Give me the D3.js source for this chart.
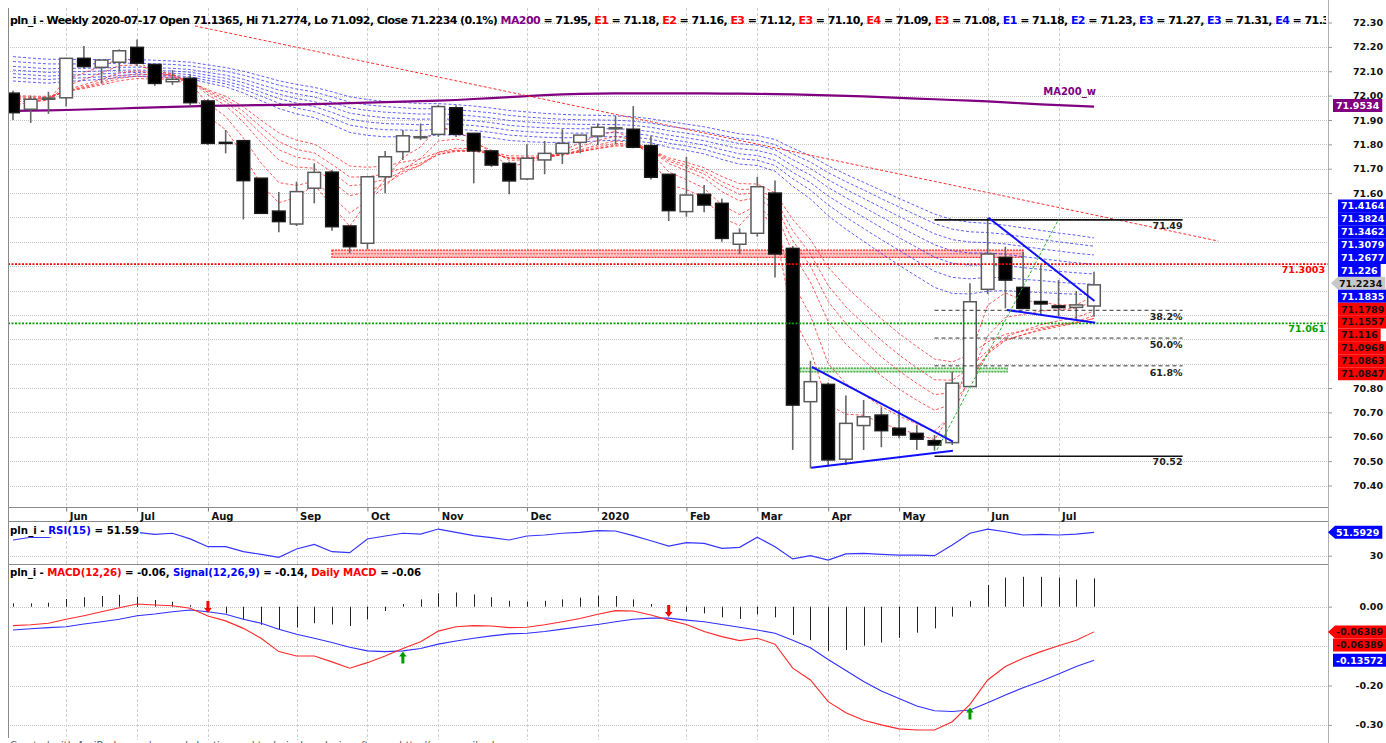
<!DOCTYPE html>
<html>
<head>
<meta charset="utf-8">
<script src="https://cdn.jsdelivr.net/npm/d3@7"></script>
<style>
  body { margin: 0; background: #fff; }
  svg { display: block; }
</style>
</head>
<body>
<svg id="chart" width="1386" height="743"></svg>
<script>
// weekly bars, 2019-05-17 .. 2020-07-17
const opens = [72.01,71.944,71.985,71.991,72.153,72.116,72.137,72.198,72.128,72.057,
  72.071,71.978,71.808,71.815,71.661,71.526,71.473,71.62,71.686,71.465,
  71.394,71.667,71.77,71.829,71.841,71.95,71.845,71.773,71.722,71.658,
  71.736,71.763,71.808,71.834,71.866,71.862,71.795,71.677,71.524,71.595,
  71.558,71.39,71.435,71.60,71.373,70.744,70.815,70.508,70.646,70.689,
  70.635,70.614,70.584,70.576,70.806,71.205,71.336,71.213,71.155,71.137,
  71.131,71.1365];
const highs = [72.02,72.00,72.016,72.155,72.204,72.146,72.19,72.23,72.13,72.105,
  72.087,71.985,71.859,71.818,71.661,71.604,71.647,71.722,71.695,71.465,
  71.667,71.773,71.859,71.886,71.962,71.96,71.845,71.773,71.729,71.80,
  71.814,71.862,71.838,71.886,71.916,71.957,71.834,71.677,71.749,71.633,
  71.578,71.455,71.667,71.652,71.383,70.912,70.823,70.769,70.751,70.721,
  70.71,70.648,70.607,70.867,71.23,71.499,71.38,71.36,71.305,71.243,
  71.198,71.2774];
const lows = [71.90,71.888,71.925,71.955,72.11,72.05,72.098,72.12,72.04,72.044,
  71.957,71.797,71.763,71.492,71.517,71.439,71.465,71.558,71.445,71.353,
  71.369,71.599,71.736,71.818,71.831,71.83,71.64,71.708,71.595,71.654,
  71.677,71.719,71.763,71.797,71.80,71.784,71.656,71.485,71.503,71.521,
  71.40,71.349,71.421,71.254,70.546,70.47,70.477,70.484,70.546,70.557,
  70.594,70.546,70.543,70.566,70.806,71.186,71.127,71.123,71.10,71.094,
  71.082,71.092];
const closes = [71.93,71.985,71.99,72.153,72.119,72.146,72.184,72.133,72.05,72.067,
  71.971,71.804,71.806,71.651,71.517,71.483,71.606,71.685,71.462,71.38,
  71.667,71.749,71.835,71.831,71.955,71.841,71.773,71.715,71.65,71.743,
  71.763,71.804,71.838,71.87,71.868,71.788,71.665,71.528,71.592,71.551,
  71.414,71.435,71.626,71.35,70.73,70.826,70.505,70.655,70.682,70.625,
  70.607,70.59,70.566,70.82,71.154,71.35,71.243,71.127,71.145,71.13,
  71.141,71.2234];

const ma200 = [71.937,71.938,71.939,71.941,71.943,71.945,71.947,71.95,71.952,71.954,
  71.956,71.958,71.959,71.96,71.961,71.962,71.963,71.965,71.967,71.969,
  71.971,71.973,71.975,71.977,71.979,71.982,71.986,71.99,71.994,71.998,
  72.002,72.005,72.007,72.008,72.009,72.009,72.009,72.009,72.009,72.009,
  72.008,72.008,72.007,72.006,72.005,72.003,72.001,71.999,71.997,71.994,
  71.991,71.988,71.985,71.982,71.979,71.976,71.972,71.968,71.964,71.961,
  71.958,71.955];

// short ribbon (red)
const redE3 = [71.96,71.973,71.981,72.067,72.093,72.12,72.152,72.142,72.096,72.082,
  72.026,71.915,71.86,71.756,71.636,71.56,71.583,71.634,71.548,71.464,
  71.566,71.657,71.746,71.789,71.872,71.856,71.815,71.765,71.707,71.725,
  71.744,71.774,71.806,71.838,71.853,71.82,71.743,71.635,71.614,71.582,
  71.498,71.467,71.546,71.448,71.089,70.957,70.731,70.693,70.688,70.656,
  70.632,70.611,70.588,70.704,70.929,71.14,71.191,71.159,71.152,71.141,
  71.141,71.179];
const redE5 = [71.975,71.978,71.982,72.039,72.066,72.093,72.123,72.126,72.101,72.09,
  72.05,71.968,71.914,71.826,71.723,71.643,71.631,71.649,71.587,71.518,
  71.568,71.628,71.697,71.742,71.813,71.822,71.806,71.776,71.734,71.737,
  71.746,71.765,71.789,71.816,71.833,71.818,71.767,71.687,71.655,71.62,
  71.551,71.512,71.55,71.483,71.232,71.097,70.9,70.818,70.773,70.724,
  70.685,70.653,70.624,70.689,70.844,71.013,71.09,71.102,71.116,71.121,
  71.128,71.156];
const redE8 = [71.985,71.985,71.986,72.023,72.044,72.067,72.093,72.102,72.09,72.085,
  72.06,72.003,71.959,71.891,71.808,71.736,71.707,71.702,71.649,71.589,
  71.606,71.638,71.682,71.715,71.768,71.784,71.782,71.767,71.741,71.741,
  71.746,71.759,71.777,71.798,71.814,71.808,71.776,71.721,71.692,71.661,
  71.606,71.568,71.581,71.53,71.352,71.235,71.073,70.98,70.914,70.85,
  70.796,70.75,70.709,70.734,70.827,70.943,71.01,71.036,71.06,71.076,
  71.09,71.116];
const redE10 = [71.99,71.989,71.989,72.019,72.037,72.057,72.08,72.09,72.083,72.08,
  72.06,72.013,71.975,71.916,71.844,71.778,71.747,71.736,71.686,71.63,
  71.637,71.657,71.689,71.715,71.759,71.774,71.774,71.763,71.743,71.743,
  71.747,71.757,71.772,71.79,71.804,71.801,71.776,71.731,71.706,71.678,
  71.63,71.595,71.601,71.555,71.405,71.3,71.155,71.064,70.995,70.928,
  70.87,70.819,70.773,70.781,70.849,70.94,70.995,71.019,71.042,71.058,
  71.073,71.097];
const redE12 = [71.995,71.993,71.993,72.018,72.033,72.05,72.071,72.08,72.075,72.074,
  72.058,72.019,71.986,71.935,71.871,71.811,71.779,71.765,71.718,71.666,
  71.666,71.679,71.703,71.723,71.758,71.771,71.771,71.762,71.745,71.745,
  71.748,71.756,71.769,71.784,71.797,71.796,71.776,71.738,71.715,71.69,
  71.647,71.615,71.617,71.576,71.446,71.35,71.22,71.133,71.064,70.996,
  70.936,70.883,70.834,70.832,70.882,70.954,70.998,71.018,71.037,71.052,
  71.066,71.086];
const redE15 = [72.0,71.998,71.997,72.017,72.029,72.044,72.061,72.07,72.068,72.068,
  72.056,72.024,71.997,71.954,71.899,71.847,71.817,71.801,71.758,71.711,
  71.706,71.711,71.727,71.74,71.767,71.776,71.776,71.768,71.753,71.752,
  71.753,71.76,71.77,71.782,71.793,71.792,71.777,71.745,71.726,71.704,
  71.668,71.639,71.637,71.601,71.492,71.409,71.296,71.216,71.149,71.084,
  71.024,70.97,70.919,70.907,70.938,70.989,71.021,71.034,71.048,71.058,
  71.068,71.085];

// long ribbon (blue)
const blueE30 = [72.06,72.055,72.051,72.058,72.062,72.067,72.075,72.079,72.077,72.076,
  72.069,72.052,72.036,72.011,71.979,71.947,71.925,71.91,71.881,71.849,
  71.837,71.831,71.831,71.831,71.839,71.839,71.835,71.827,71.816,71.811,
  71.808,71.808,71.81,71.814,71.817,71.815,71.806,71.788,71.775,71.761,
  71.738,71.719,71.713,71.69,71.628,71.576,71.507,71.452,71.402,71.352,
  71.304,71.258,71.213,71.188,71.186,71.197,71.2,71.195,71.192,71.188,
  71.185,71.184];
const blueE35 = [72.075,72.07,72.066,72.071,72.073,72.077,72.083,72.086,72.084,72.083,
  72.077,72.062,72.048,72.026,71.998,71.969,71.949,71.934,71.908,71.879,
  71.867,71.86,71.859,71.857,71.863,71.862,71.857,71.849,71.838,71.833,
  71.829,71.827,71.828,71.83,71.832,71.83,71.821,71.805,71.793,71.779,
  71.759,71.741,71.735,71.713,71.659,71.612,71.551,71.501,71.455,71.409,
  71.365,71.321,71.279,71.254,71.248,71.254,71.253,71.246,71.241,71.234,
  71.229,71.226];
const blueE40 = [72.09,72.085,72.08,72.084,72.086,72.089,72.093,72.095,72.093,72.092,
  72.086,72.072,72.059,72.039,72.014,71.988,71.969,71.955,71.931,71.904,
  71.892,71.885,71.883,71.88,71.884,71.882,71.877,71.869,71.858,71.852,
  71.848,71.846,71.846,71.847,71.848,71.845,71.836,71.821,71.81,71.797,
  71.778,71.761,71.754,71.734,71.685,71.643,71.588,71.543,71.501,71.458,
  71.417,71.377,71.337,71.312,71.304,71.306,71.303,71.294,71.287,71.279,
  71.273,71.268];
const blueE45 = [72.105,72.1,72.095,72.098,72.099,72.101,72.104,72.105,72.103,72.101,
  72.096,72.083,72.071,72.053,72.029,72.006,71.988,71.975,71.953,71.928,
  71.917,71.909,71.906,71.903,71.905,71.902,71.897,71.889,71.878,71.872,
  71.868,71.865,71.864,71.864,71.864,71.861,71.852,71.838,71.827,71.815,
  71.798,71.782,71.775,71.757,71.712,71.674,71.623,71.581,71.542,71.502,
  71.463,71.425,71.388,71.363,71.354,71.354,71.349,71.339,71.331,71.322,
  71.314,71.308];
const blueE50 = [72.12,72.115,72.11,72.112,72.112,72.113,72.116,72.117,72.114,72.112,
  72.107,72.095,72.084,72.067,72.045,72.023,72.007,71.994,71.973,71.95,
  71.939,71.932,71.928,71.924,71.925,71.922,71.916,71.908,71.898,71.892,
  71.887,71.884,71.882,71.882,71.881,71.878,71.87,71.856,71.846,71.834,
  71.818,71.803,71.796,71.778,71.737,71.701,71.654,71.615,71.578,71.541,
  71.504,71.468,71.433,71.409,71.399,71.397,71.391,71.381,71.371,71.362,
  71.353,71.346];
const blueE55 = [72.14,72.135,72.13,72.13,72.13,72.131,72.133,72.133,72.13,72.128,
  72.122,72.111,72.1,72.084,72.064,72.043,72.027,72.015,71.995,71.973,
  71.962,71.955,71.95,71.946,71.946,71.942,71.936,71.929,71.919,71.912,
  71.907,71.903,71.901,71.9,71.899,71.895,71.887,71.874,71.864,71.853,
  71.837,71.823,71.816,71.799,71.761,71.727,71.684,71.647,71.613,71.577,
  71.543,71.509,71.475,71.452,71.441,71.438,71.431,71.42,71.41,71.4,
  71.391,71.382];
const blueE60 = [72.16,72.154,72.149,72.149,72.148,72.148,72.149,72.148,72.145,72.142,
  72.137,72.126,72.115,72.1,72.081,72.061,72.046,72.034,72.016,71.995,
  71.984,71.976,71.972,71.967,71.967,71.963,71.957,71.949,71.939,71.933,
  71.927,71.923,71.92,71.919,71.917,71.913,71.905,71.893,71.883,71.872,
  71.857,71.843,71.836,71.82,71.784,71.753,71.712,71.677,71.644,71.611,
  71.578,71.546,71.514,71.491,71.48,71.476,71.468,71.457,71.447,71.436,
  71.427,71.416];

const rsi15 = [44.5,47,47,51,52,51.5,51,51.5,49.7,50.7,
  45.5,38.3,38.3,33.7,31.3,28.5,36.2,40.5,33.7,32.8,
  45.4,48.2,50.7,50,54.6,51.6,48.5,46.6,44.5,48.2,
  49.1,50.7,51.6,53.1,52.8,48.5,43.8,38.9,42,41.4,
  36.8,37.7,47,38.3,27,30,26,31.6,32.2,31.3,
  30.6,30.6,30,39.9,50.7,54.6,52.1,49.1,49.7,49.1,
  50,51.59];

const macdLine = [-0.048,-0.046,-0.042,-0.032,-0.023,-0.013,-0.0025,0.0068,0.0043,0.0025,
  -0.004,-0.0236,-0.036,-0.055,-0.080,-0.114,-0.125,-0.125,-0.140,-0.156,
  -0.142,-0.125,-0.106,-0.089,-0.062,-0.051,-0.048,-0.049,-0.053,-0.052,
  -0.046,-0.038,-0.030,-0.019,-0.010,-0.011,-0.021,-0.034,-0.045,-0.063,
  -0.076,-0.086,-0.080,-0.095,-0.156,-0.186,-0.241,-0.269,-0.288,-0.300,
  -0.310,-0.313,-0.313,-0.292,-0.248,-0.186,-0.152,-0.131,-0.114,-0.099,
  -0.085,-0.0639];
const signalLine = [-0.059,-0.056,-0.053,-0.051,-0.044,-0.038,-0.032,-0.023,-0.0185,-0.0127,
  -0.0084,-0.0127,-0.019,-0.032,-0.042,-0.057,-0.070,-0.080,-0.091,-0.103,
  -0.112,-0.114,-0.112,-0.106,-0.095,-0.087,-0.080,-0.074,-0.069,-0.0675,
  -0.063,-0.057,-0.051,-0.045,-0.038,-0.032,-0.029,-0.029,-0.034,-0.038,
  -0.045,-0.052,-0.059,-0.0675,-0.085,-0.104,-0.134,-0.162,-0.190,-0.214,
  -0.233,-0.252,-0.264,-0.266,-0.262,-0.244,-0.224,-0.206,-0.189,-0.171,
  -0.152,-0.1357];
const macdHist = [0.0085,0.0085,0.010,0.0195,0.024,0.027,0.030,0.025,0.017,0.0127,
  0.004,-0.011,-0.017,-0.032,-0.046,-0.058,-0.053,-0.042,-0.045,-0.049,
  -0.032,-0.011,0.0068,0.0186,0.034,0.036,0.031,0.024,0.015,0.0127,
  0.015,0.0186,0.023,0.028,0.027,0.0186,0.0068,-0.004,-0.0127,-0.017,
  -0.027,-0.031,-0.0195,-0.027,-0.072,-0.085,-0.112,-0.110,-0.099,-0.091,
  -0.079,-0.066,-0.055,-0.025,0.0144,0.055,0.074,0.076,0.076,0.074,
  0.069,0.072];
const sellArrows = [11, 37];
const buyArrows = [22, 54];

const monthBars = [3, 7, 11, 16, 20, 24, 29, 33, 38, 42, 46, 50, 55, 59];
const monthLabels = ["Jun","Jul","Aug","Sep","Oct","Nov","Dec","2020","Feb","Mar","Apr","May","Jun","Jul"];
const priceGrid = [72.3,72.2,72.1,72.0,71.9,71.8,71.7,71.6,71.5,71.4,71.3,71.2,71.1,71.0,70.9,70.8,70.7,70.6,70.5,70.4];
// tick labels left visible beside the value tags
const priceLabels = [72.3,72.2,72.1,72.0,71.9,71.8,71.7,71.6,70.8,70.7,70.6,70.5,70.4];
const rsiTicks = [30];
const macdGrid = [0, -0.1, -0.2, -0.3];
const macdLabels = [0, -0.2, -0.3];

// drawings on the price pane: [bar, price]
const redTrend = [[10.27, 72.286], [68.02, 71.403]];
const wedgeDownUpper = [[45.08, 70.887], [53.04, 70.58]];
const wedgeDownLower = [[45.04, 70.473], [53.04, 70.543]];
const wedgeUpUpper = [[55.05, 71.499], [61.03, 71.157]];
const wedgeUpLower = [[56.09, 71.12], [61.07, 71.068]];
const greenRay = [[52.14, 70.546], [59.0, 71.492]];
const levelLines = [71.49, 70.52];
const levelNames = ["71.49", "70.52"];
const fibValues = [71.119, 71.005, 70.891];
const fibNames = ["38.2%", "50.0%", "61.8%"];
const levelSpan = [52, 66];
const redZone = [18, 57, 71.336, 71.366];
const greenZone = [44.4, 56.1, 70.866, 70.882];
const redLevel = 71.3003;
const greenLevel = 71.061;

const blueTags = ["71.4164","71.3824","71.3462","71.3079","71.2677","71.226","71.1835"];
const redTags = ["71.1789","71.1557","71.116","71.0968","71.0863","71.0847"];

const headerParts = [
  ["pln_i - Weekly 2020-07-17 Open 71.1365, Hi 71.2774, Lo 71.092, Close 71.2234 (0.1%) ", "#000"],
  ["MA200", "#800080"], [" = 71.95, ", "#000"],
  ["E1", "#ff0000"], [" = 71.18, ", "#000"], ["E2", "#ff0000"], [" = 71.16, ", "#000"],
  ["E3", "#ff0000"], [" = 71.12, ", "#000"], ["E3", "#ff0000"], [" = 71.10, ", "#000"],
  ["E4", "#ff0000"], [" = 71.09, ", "#000"], ["E3", "#ff0000"], [" = 71.08, ", "#000"],
  ["E1", "#0000ff"], [" = 71.18, ", "#000"], ["E2", "#0000ff"], [" = 71.23, ", "#000"],
  ["E3", "#0000ff"], [" = 71.27, ", "#000"], ["E3", "#0000ff"], [" = 71.31, ", "#000"],
  ["E4", "#0000ff"], [" = 71.35", "#000"]
];

const FONT = "'DejaVu Sans', Verdana, sans-serif";
const plotL = 8, plotR = 1328;
const panes = { main: [8, 507], strip: [507, 521], rsi: [521, 564], macd: [564, 740] };

const svg = d3.select("#chart").style("font-family", FONT);
svg.append("rect").attr("width", 1386).attr("height", 743).attr("fill", "#fff");

const x = d3.scaleLinear().domain([0, 61]).range([13, 1094]);
const yP = d3.scaleLinear().domain([70.4, 72.3]).range([485.5, 22.5]);
const yR = d3.scaleLinear().domain([22.8, 61.1]).range([563.5, 522]);
const yM = d3.scaleLinear().domain([-0.3, 0]).range([724.9, 606.7]);

const defs = svg.append("defs");
Object.entries(panes).forEach(([k, [t, b]]) => {
  defs.append("clipPath").attr("id", "clip-" + k)
    .append("rect").attr("x", plotL + 1).attr("y", t).attr("width", plotR - plotL - 1).attr("height", b - t);
});
defs.append("clipPath").attr("id", "clip-head").append("rect").attr("x", 0).attr("y", 0).attr("width", 1326).attr("height", 40);

// grids
const grid = svg.append("g").attr("fill", "none");
function hGrid(vals, scale) {
  grid.append("g").selectAll("line").data(vals).join("line")
    .attr("x1", plotL).attr("x2", plotR)
    .attr("y1", d => Math.round(scale(d)) + 0.5).attr("y2", d => Math.round(scale(d)) + 0.5)
    .attr("stroke", "#c4c4c4").attr("stroke-dasharray", "1,1");
}
hGrid(priceGrid, yP);
hGrid(rsiTicks, yR);
hGrid(macdGrid, yM);
[panes.main, panes.rsi, panes.macd].forEach(([t, b]) => {
  grid.append("g").selectAll("line").data(monthBars).join("line")
    .attr("x1", d => Math.round(x(d)) + 0.5).attr("x2", d => Math.round(x(d)) + 0.5)
    .attr("y1", t).attr("y2", b)
    .attr("stroke", "#d0d0d0").attr("stroke-dasharray", "3,2");
});

// ---- price pane ----
const main = svg.append("g").attr("clip-path", "url(#clip-main)");
const pLine = d3.line().x((d, i) => x(i)).y(d => yP(d));
const segLine = d3.line().x(d => x(d[0])).y(d => yP(d[1]));

main.append("rect")
  .attr("x", x(redZone[0])).attr("width", x(redZone[1]) - x(redZone[0]))
  .attr("y", yP(redZone[3])).attr("height", yP(redZone[2]) - yP(redZone[3]))
  .attr("fill", "#ffb4b4").attr("fill-opacity", 0.8)
  .attr("stroke", "#ff2a2a").attr("stroke-dasharray", "2,1").attr("stroke-width", 1.2);
main.append("line")
  .attr("x1", x(redZone[0])).attr("x2", x(redZone[1]))
  .attr("y1", yP((redZone[2] + redZone[3]) / 2)).attr("y2", yP((redZone[2] + redZone[3]) / 2))
  .attr("stroke", "#ff5050").attr("stroke-dasharray", "2,1");
main.append("rect")
  .attr("x", x(greenZone[0])).attr("width", x(greenZone[1]) - x(greenZone[0]))
  .attr("y", yP(greenZone[3])).attr("height", yP(greenZone[2]) - yP(greenZone[3]))
  .attr("fill", "#b8e6b8").attr("fill-opacity", 0.8)
  .attr("stroke", "#2aa02a").attr("stroke-dasharray", "2,1").attr("stroke-width", 1.2);

[blueE30, blueE35, blueE40, blueE45, blueE50, blueE55, blueE60].forEach(s => {
  main.append("path").attr("d", pLine(s)).attr("fill", "none")
    .attr("stroke", "#2b2bff").attr("stroke-opacity", 0.75).attr("stroke-width", 1)
    .attr("stroke-dasharray", "3,2");
});
[redE3, redE5, redE8, redE10, redE12, redE15].forEach(s => {
  main.append("path").attr("d", pLine(s)).attr("fill", "none")
    .attr("stroke", "#ff2020").attr("stroke-opacity", 0.75).attr("stroke-width", 1)
    .attr("stroke-dasharray", "3,2");
});

main.append("path").attr("d", pLine(ma200)).attr("fill", "none")
  .attr("stroke", "#800080").attr("stroke-width", 2.2);

main.append("path").attr("d", segLine(redTrend)).attr("fill", "none")
  .attr("stroke", "#ff3030").attr("stroke-width", 1).attr("stroke-dasharray", "3,2");

const bars = d3.range(closes.length).map(i => ({ i, o: opens[i], h: highs[i], l: lows[i], c: closes[i] }));
const candles = main.append("g").selectAll("g").data(bars).join("g");
candles.append("line")
  .attr("x1", d => x(d.i)).attr("x2", d => x(d.i))
  .attr("y1", d => yP(d.h)).attr("y2", d => yP(d.l))
  .attr("stroke", "#666").attr("stroke-width", 1.6);
candles.append("rect")
  .attr("x", d => x(d.i) - 6.3).attr("width", 12.6)
  .attr("y", d => yP(Math.max(d.o, d.c)))
  .attr("height", d => Math.max(1, Math.abs(yP(d.o) - yP(d.c))))
  .attr("fill", d => d.c >= d.o ? "#fff" : "#000")
  .attr("stroke", d => d.c >= d.o ? "#5a5a5a" : "#1a1a1a")
  .attr("stroke-width", 1.5);

main.append("line").attr("x1", plotL).attr("x2", plotR).attr("y1", yP(redLevel) - 2).attr("y2", yP(redLevel) - 2)
  .attr("stroke", "#ff0000").attr("stroke-width", 1.6).attr("stroke-dasharray", "2,1.5");
main.append("line").attr("x1", plotL).attr("x2", plotR).attr("y1", yP(greenLevel) - 1).attr("y2", yP(greenLevel) - 1)
  .attr("stroke", "#00a000").attr("stroke-width", 1.6).attr("stroke-dasharray", "2,1.5");

main.selectAll(".fib").data(fibValues).join("line")
  .attr("x1", x(levelSpan[0])).attr("x2", x(levelSpan[1]))
  .attr("y1", d => yP(d)).attr("y2", d => yP(d))
  .attr("stroke", "#333").attr("stroke-dasharray", "4,3");
main.selectAll(".fibt").data(fibValues).join("text")
  .attr("x", x(levelSpan[1])).attr("y", d => yP(d) + 10)
  .attr("text-anchor", "end").attr("font-size", 9.5).attr("font-weight", "bold").attr("fill", "#222")
  .text((d, i) => fibNames[i]);
main.selectAll(".lvl").data(levelLines).join("line")
  .attr("x1", x(levelSpan[0])).attr("x2", x(levelSpan[1]))
  .attr("y1", d => yP(d)).attr("y2", d => yP(d))
  .attr("stroke", "#111").attr("stroke-width", 1.6);
main.selectAll(".lvlt").data(levelLines).join("text")
  .attr("x", x(levelSpan[1])).attr("y", d => yP(d) + 9)
  .attr("text-anchor", "end").attr("font-size", 9.5).attr("font-weight", "bold").attr("fill", "#222")
  .text((d, i) => levelNames[i]);

[wedgeDownUpper, wedgeDownLower, wedgeUpUpper, wedgeUpLower].forEach(s => {
  main.append("path").attr("d", segLine(s)).attr("stroke", "#1010ff").attr("stroke-width", 2).attr("fill", "none");
});
main.append("path").attr("d", segLine(greenRay)).attr("stroke", "#30b030").attr("stroke-width", 1)
  .attr("stroke-dasharray", "3,2").attr("fill", "none");

main.append("text").attr("x", x(61) + 2).attr("y", yP(ma200[61]) - 12)
  .attr("text-anchor", "end").attr("font-size", 10).attr("font-weight", "bold").attr("fill", "#800080").text("MA200_w");
main.append("text").attr("x", 1325).attr("y", yP(redLevel) + 7)
  .attr("text-anchor", "end").attr("font-size", 9.5).attr("font-weight", "bold").attr("fill", "#ff0000").text("71.3003");
main.append("text").attr("x", 1325).attr("y", yP(greenLevel) + 8)
  .attr("text-anchor", "end").attr("font-size", 9.5).attr("font-weight", "bold").attr("fill", "#00a000").text("71.061");

// ---- RSI pane ----
const rsiG = svg.append("g").attr("clip-path", "url(#clip-rsi)");
rsiG.append("path").attr("d", d3.line().x((d, i) => x(i)).y(d => yR(d))(rsi15))
  .attr("fill", "none").attr("stroke", "#3535ff").attr("stroke-width", 1.2);

// ---- MACD pane ----
const macdG = svg.append("g").attr("clip-path", "url(#clip-macd)");
macdG.selectAll(".hb").data(macdHist).join("line")
  .attr("x1", (d, i) => Math.round(x(i)) + 0.5).attr("x2", (d, i) => Math.round(x(i)) + 0.5)
  .attr("y1", yM(0)).attr("y2", d => yM(d))
  .attr("stroke", "#222").attr("stroke-width", 1);
const mLine = d3.line().x((d, i) => x(i)).y(d => yM(d));
macdG.append("path").attr("d", mLine(signalLine)).attr("fill", "none").attr("stroke", "#3030ff").attr("stroke-width", 1.1);
macdG.append("path").attr("d", mLine(macdLine)).attr("fill", "none").attr("stroke", "#ff2a2a").attr("stroke-width", 1.1);
const downArrow = "M-1.5,-12L1.5,-12L1.5,-5L3.8,-5L0,0L-3.8,-5L-1.5,-5Z";
const upArrow = "M-1.5,12L1.5,12L1.5,5L3.8,5L0,0L-3.8,5L-1.5,5Z";
macdG.selectAll(".sa").data(sellArrows).join("path")
  .attr("d", downArrow).attr("transform", d => `translate(${x(d)},${yM(macdLine[d]) - 3})`).attr("fill", "#ff0000");
macdG.selectAll(".ba").data(buyArrows).join("path")
  .attr("d", upArrow).attr("transform", d => `translate(${x(d)},${yM(macdLine[d]) + 3})`).attr("fill", "#009900");

// ---- frames ----
const frame = svg.append("g").attr("stroke", "#8a8a8a").attr("fill", "none");
frame.append("line").attr("x1", plotL + 0.5).attr("x2", plotL + 0.5).attr("y1", 8).attr("y2", 738);
frame.append("line").attr("x1", plotR + 0.5).attr("x2", plotR + 0.5).attr("y1", 0).attr("y2", 743).attr("stroke", "#b0b0b0");
[507.5, 521.5, 564.5].forEach(yy => frame.append("line").attr("x1", plotL).attr("x2", plotR).attr("y1", yy).attr("y2", yy));

// month axis
const monthAxis = svg.append("g").attr("transform", "translate(0,507.5)")
  .call(d3.axisBottom(x).tickValues(monthBars).tickSize(4).tickFormat((d, i) => monthLabels[i]));
monthAxis.select(".domain").remove();
monthAxis.selectAll("line").attr("stroke", "#777");
monthAxis.selectAll("text").attr("x", 3).attr("y", 12).attr("dy", null).attr("text-anchor", "start")
  .attr("font-family", FONT).attr("font-size", 10).attr("font-weight", "bold").attr("fill", "#111");

// right axes
function styleAxis(g) {
  g.select(".domain").remove();
  g.selectAll("line").attr("stroke", "#999");
  g.selectAll("text").attr("x", 55).attr("text-anchor", "end")
    .attr("font-family", FONT).attr("font-size", 9.5).attr("font-weight", "bold").attr("fill", "#111");
}
svg.append("g").attr("transform", `translate(${plotR},0)`)
  .call(d3.axisRight(yP).tickValues(priceLabels).tickSize(4).tickFormat(d => d.toFixed(2))).call(styleAxis);
svg.append("g").attr("transform", `translate(${plotR},0)`)
  .call(d3.axisRight(yR).tickValues(rsiTicks).tickSize(4).tickFormat(d => d.toFixed(0))).call(styleAxis);
svg.append("g").attr("transform", `translate(${plotR},0)`)
  .call(d3.axisRight(yM).tickValues(macdLabels).tickSize(4).tickFormat(d => d.toFixed(2))).call(styleAxis);

// value tags on the right
const tags = svg.append("g").attr("font-size", 9.5).attr("font-weight", "bold");
function tag(yc, label, fill, color, left, arrow) {
  const g = tags.append("g");
  const t = g.append("text").attr("x", left + (arrow ? 8 : 3)).attr("y", yc).attr("dy", "0.36em")
    .attr("fill", color).text(label);
  const w = t.node().getComputedTextLength();
  const r = left + (arrow ? 8 : 3) + w + 3;
  const h = 6.5;
  const pts = arrow
    ? [[left, yc], [left + 7, yc - h], [r, yc - h], [r, yc + h], [left + 7, yc + h]]
    : [[left, yc - h], [r, yc - h], [r, yc + h], [left, yc + h]];
  g.insert("polygon", "text").attr("points", pts.map(p => p.join(",")).join(" ")).attr("fill", fill);
}
tag(yP(ma200[61]) - 1, "71.9534", "#800080", "#fff", 1333, false);
const closeY = yP(closes[61]) - 1.5;
blueTags.slice(0, 6).forEach((s, k) => tag(closeY - 12.9 * (6 - k), s, "#0000ff", "#fff", 1338, false));
tag(closeY, closes[61].toString(), "#c8c8c8", "#111", 1331, true);
tag(closeY + 12.9, blueTags[6], "#0000ff", "#fff", 1338, false);
redTags.forEach((s, k) => tag(closeY + 12.9 * (k + 2), s, "#ff0000", "#111", 1338, false));
tag(yR(rsi15[61]), "51.5929", "#0000ff", "#fff", 1328, true);
tag(yM(macdLine[61]), "-0.06389", "#ff0000", "#111", 1328, true);
tag(yM(macdLine[61]) + 13, "-0.06389", "#ff0000", "#111", 1333, false);
tag(yM(signalLine[61]), "-0.13572", "#0000ff", "#fff", 1333, false);

// titles
const head = svg.append("text").attr("x", 10).attr("y", 24).attr("clip-path", "url(#clip-head)")
  .attr("font-size", 11).attr("font-weight", "bold")
  .attr("textLength", 1327).attr("lengthAdjust", "spacing");
headerParts.forEach(([s, c]) => head.append("tspan").attr("fill", c).text(s));

function title(yBase, parts, width) {
  svg.append("rect").attr("x", 9).attr("y", yBase - 10).attr("width", width + 2).attr("height", 13).attr("fill", "#fff");
  const t = svg.append("text").attr("x", 10).attr("y", yBase).attr("font-size", 10.2).attr("font-weight", "bold")
    .attr("textLength", width).attr("lengthAdjust", "spacing");
  parts.forEach(([s, c]) => t.append("tspan").attr("fill", c).text(s));
}
title(534, [["pln_i - ", "#000"], ["RSI(15)", "#0000ff"], [" = 51.59", "#000"]], 129);
title(575.5, [["pln_i - ", "#000"], ["MACD(12,26)", "#ff0000"], [" = -0.06, ", "#000"],
  ["Signal(12,26,9)", "#0000ff"], [" = -0.14, ", "#000"], ["Daily MACD", "#ff0000"], [" = -0.06", "#000"]], 411);

svg.append("text").attr("x", 10).attr("y", 749).attr("font-size", 10).attr("fill", "#555")
  .text("Created with AmiBroker - advanced charting and technical analysis software. http://www.amibroker.com");
</script>
</body>
</html>
